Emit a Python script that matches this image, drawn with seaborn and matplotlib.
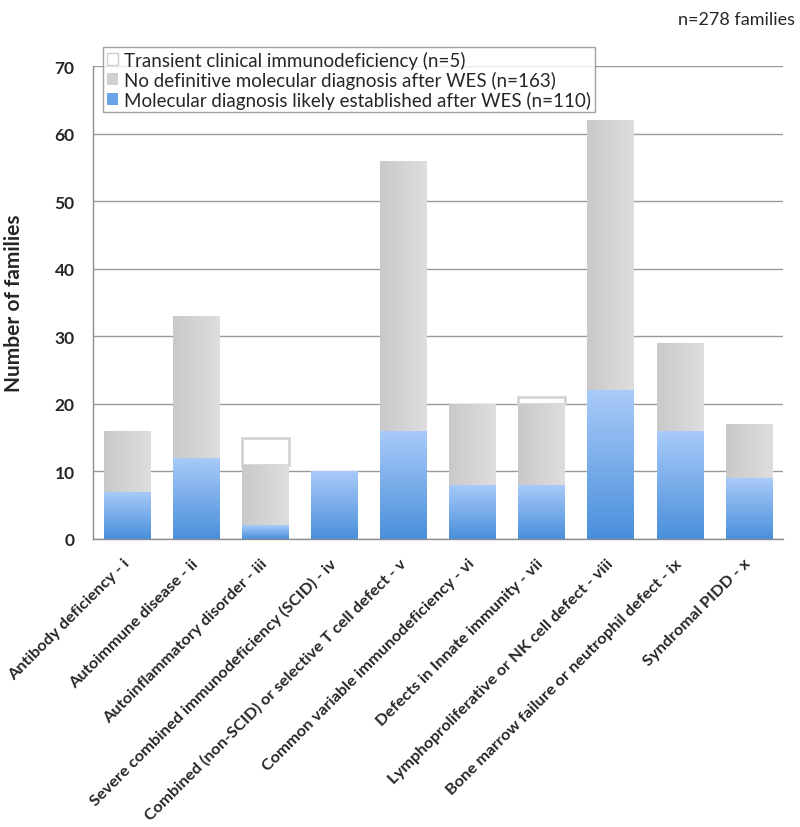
import numpy as np
import pandas as pd
import matplotlib
matplotlib.use('Agg')
import matplotlib.pyplot as plt
from matplotlib.colors import LinearSegmentedColormap
from matplotlib.patches import Patch
import seaborn as sns

categories = ['Antibody deficiency - i',
              'Autoimmune disease - ii',
              'Autoinflammatory disorder - iii',
              'Severe combined immunodeficiency (SCID) - iv',
              'Combined (non-SCID) or selective T cell defect - v',
              'Common variable immunodeficiency - vi',
              'Defects in Innate immunity - vii',
              'Lymphoproliferative or NK cell defect - viii',
              'Bone marrow failure or neutrophil defect - ix',
              'Syndromal PIDD - x']
molecular = [7, 12, 2, 10, 16, 8, 8, 22, 16, 9]
no_diagnosis = [9, 21, 9, 0, 40, 12, 12, 40, 13, 8]
transient = [0, 0, 4, 0, 0, 0, 1, 0, 0, 0]

legend_labels = ['Transient clinical immunodeficiency (n=5)',
                 'No definitive molecular diagnosis after WES (n=163)',
                 'Molecular diagnosis likely established after WES (n=110)']

df = pd.DataFrame({'category': categories,
                   'molecular': molecular,
                   'no_diagnosis': no_diagnosis,
                   'transient': transient})
df['grey_top'] = df.molecular + df.no_diagnosis
df['total'] = df.grey_top + df.transient

sns.set_style('white')
fig = plt.figure(figsize=(8, 8.28), dpi=100)
ax = fig.add_axes([0.116, 0.348, 0.863, 0.571])

# back to front so the segments stack
sns.barplot(data=df, x='category', y='total', color='white', width=0.67,
            edgecolor='#d4d4d4', linewidth=2, ax=ax, zorder=2)
trans_bars = ax.containers[-1]
sns.barplot(data=df, x='category', y='grey_top', color='#d4d4d4', width=0.67,
            linewidth=0, ax=ax, zorder=3)
grey_bars = ax.containers[-1]
sns.barplot(data=df, x='category', y='molecular', color='#6fa6e6', width=0.67,
            linewidth=0, ax=ax, zorder=4)
blue_bars = ax.containers[-1]

# transient box only sits on top of the grey part
for patch, g, t in zip(trans_bars, df.grey_top, df.transient):
    if t == 0:
        patch.set_visible(False)
    else:
        patch.set_y(g)
        patch.set_height(t)

blue_cmap = LinearSegmentedColormap.from_list('b', ['#4a8fdb', '#a9cbf9'])
grey_cmap = LinearSegmentedColormap.from_list('g', ['#c9c9c9', '#dedede'])
vgrad = np.linspace(0, 1, 256).reshape(-1, 1)
hgrad = np.linspace(0, 1, 256).reshape(1, -1)

for patch in grey_bars:
    x0, y0, w, h = patch.get_x(), patch.get_y(), patch.get_width(), patch.get_height()
    if h <= 0:
        continue
    im = ax.imshow(hgrad, cmap=grey_cmap, extent=[x0, x0 + w, y0, y0 + h],
                   origin='lower', aspect='auto', zorder=3.5)
    im.set_clip_path(patch)

for patch in blue_bars:
    x0, y0, w, h = patch.get_x(), patch.get_y(), patch.get_width(), patch.get_height()
    if h <= 0:
        continue
    im = ax.imshow(vgrad, cmap=blue_cmap, extent=[x0, x0 + w, y0, y0 + h],
                   origin='lower', aspect='auto', zorder=4.5)
    im.set_clip_path(patch)

ax.set_xlim(-0.5, len(categories) - 0.5)
ax.set_ylim(0, 70)
ax.set_yticks(range(0, 71, 10))
ax.yaxis.grid(True, color='#9a9a9a', linewidth=1)
ax.set_axisbelow(True)

for s in ['top', 'right']:
    ax.spines[s].set_visible(False)
for s in ['left', 'bottom']:
    ax.spines[s].set_color('#8c8c8c')
    ax.spines[s].set_linewidth(1)

ax.set_xticks(range(len(categories)))
ax.set_xticklabels(categories, rotation=45, ha='right', va='center',
                   rotation_mode='anchor',
                   fontsize=11.8, fontweight='bold', family='Lato')
ax.set_xticks(np.arange(-0.5, len(categories), 1), minor=True)
ax.tick_params(axis='x', which='major', length=0, pad=16)
ax.tick_params(axis='x', which='minor', length=5, color='#8c8c8c', direction='out')
ax.tick_params(axis='y', length=5, color='#8c8c8c', direction='out', pad=8)
for lbl in ax.get_yticklabels():
    lbl.set_fontweight('bold')
    lbl.set_fontsize(12.5)
    lbl.set_family('Lato')

ax.set_xlabel('')
ax.set_ylabel('Number of families', fontsize=15, fontweight='bold',
              family='Lato', labelpad=22)

handles = [Patch(facecolor='white', edgecolor='#cfcfcf', linewidth=1),
           Patch(facecolor='#d0d0d0', edgecolor='none'),
           Patch(facecolor='#6aa3e6', edgecolor='none')]
leg = fig.legend(handles, legend_labels, loc='upper left',
                 bbox_to_anchor=(0.129, 0.942), frameon=True, fancybox=False,
                 handlelength=0.6, handleheight=0.6, handletextpad=0.3,
                 labelspacing=0.1, borderpad=0.2, borderaxespad=0,
                 prop={'family': 'Lato', 'size': 13.5})
leg.get_frame().set_edgecolor('#8c8c8c')
leg.get_frame().set_linewidth(1)

fig.text(0.994, 0.985, 'n=278 families', ha='right', va='top',
         fontsize=13, family='Lato')

fig.savefig('out.png', dpi=100)
